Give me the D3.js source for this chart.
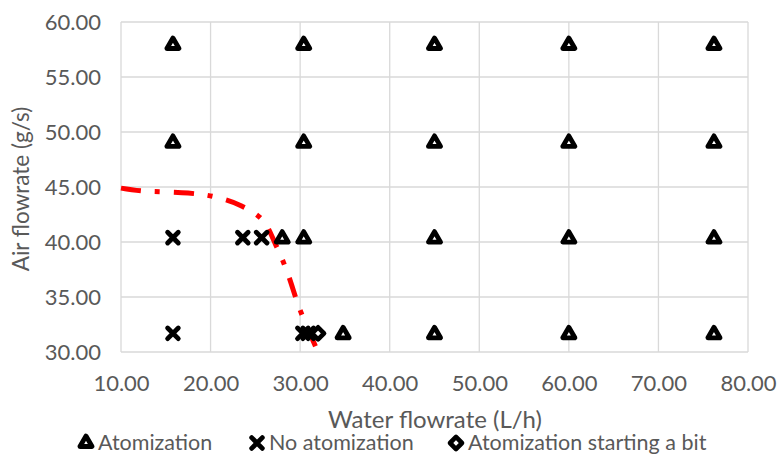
<!DOCTYPE html>
<html>
<head>
<meta charset="utf-8">
<script src="https://cdn.jsdelivr.net/npm/d3@7"></script>
<style>
  body { margin: 0; background: #fff; }
  text { font-family: Lato, "Liberation Sans", sans-serif; fill: #595959; }
</style>
</head>
<body>
<div id="chart"></div>
<script>
// values
var atomX = [15.8, 15.8, 30.4, 30.4, 30.4, 28.0, 34.8, 45, 45, 45, 45, 60, 60, 60, 60, 76.2, 76.2, 76.2, 76.2];
var atomY = [58.0, 49.1, 58.0, 49.1, 40.4, 40.4, 31.7, 58.0, 49.1, 40.4, 31.7, 58.0, 49.1, 40.4, 31.7, 58.0, 49.1, 40.4, 31.7];
var noAtomX = [15.8, 15.8, 23.6, 25.7, 30.3, 30.9];
var noAtomY = [40.4, 31.7, 40.4, 40.4, 31.7, 31.7];
var startX = [32.0];
var startY = [31.7];
var limitX = [10, 12.3, 17.5, 20.5, 23.4, 25.8, 27.3, 28.5, 30.0, 32.0];
var limitY = [44.9, 44.65, 44.45, 44.1, 43.3, 42.0, 39.7, 37.4, 33.8, 30.0];
var xTicks = [10, 20, 30, 40, 50, 60, 70, 80];
var yTicks = [30, 35, 40, 45, 50, 55, 60];
var legendNames = ["Atomization", "No atomization", "Atomization starting a bit"];

var W = 777, H = 456;
var margin = {left: 121, right: 29, top: 22, bottom: 104};
var width = W - margin.left - margin.right;
var height = H - margin.top - margin.bottom;

var svg = d3.select("#chart").append("svg")
  .attr("width", W).attr("height", H);

var g = svg.append("g")
  .attr("transform", `translate(${margin.left},${margin.top})`);

var x = d3.scaleLinear().domain([10, 80]).range([0, width]);
var y = d3.scaleLinear().domain([30, 60]).range([height, 0]);

// gridlines
g.append("g").selectAll("line.v").data(xTicks).enter().append("line")
  .attr("x1", d => x(d)).attr("x2", d => x(d))
  .attr("y1", 0).attr("y2", height)
  .attr("stroke", "#d9d9d9").attr("stroke-width", 1.3);
g.append("g").selectAll("line.h").data(yTicks).enter().append("line")
  .attr("x1", 0).attr("x2", width)
  .attr("y1", d => y(d)).attr("y2", d => y(d))
  .attr("stroke", "#d9d9d9").attr("stroke-width", 1.3);

// axes (labels only)
var xAxis = g.append("g").attr("transform", `translate(0,${height})`)
  .call(d3.axisBottom(x).tickValues(xTicks).tickFormat(d3.format(".2f")).tickSize(0).tickPadding(23));
var yAxis = g.append("g")
  .call(d3.axisLeft(y).tickValues(yTicks).tickFormat(d3.format(".2f")).tickSize(0).tickPadding(20));
[xAxis, yAxis].forEach(a => {
  a.select(".domain").remove();
  a.selectAll("text").attr("font-size", 22).attr("fill", "#595959")
    .style("font-family", "Lato, 'Liberation Sans', sans-serif");
});

// axis titles
svg.append("text")
  .attr("x", 435)
  .attr("y", 428)
  .attr("text-anchor", "middle")
  .attr("font-size", 24)
  .text("Water flowrate (L/h)");
svg.append("text")
  .attr("transform", "translate(29,189) rotate(-90)")
  .attr("text-anchor", "middle")
  .attr("font-size", 22.5)
  .text("Air flowrate (g/s)");

// boundary curve
var line = d3.line().x((d, i) => x(limitX[i])).y((d, i) => y(limitY[i]))
  .curve(d3.curveCatmullRom);
g.append("path").datum(limitX)
  .attr("d", line)
  .attr("fill", "none").attr("stroke", "#ff0000")
  .attr("stroke-width", 5)
  .attr("stroke-dasharray", "20,14,5,14");

// markers
var tri = d3.symbol().type(d3.symbolTriangle).size(64);
var times = d3.symbol().type(d3.symbolTimes).size(76);
var diam = d3.symbol().type(d3.symbolDiamond2).size(92);

function drawTri(sel) {
  sel.attr("d", tri).attr("fill", "#fff").attr("stroke", "#000")
    .attr("stroke-width", 4.8).attr("stroke-linejoin", "round");
}
function drawTimes(sel) {
  sel.attr("d", times).attr("fill", "none").attr("stroke", "#000")
    .attr("stroke-width", 4.8).attr("stroke-linecap", "round");
}
function drawDiam(sel) {
  sel.attr("d", diam).attr("fill", "#fff").attr("stroke", "#000")
    .attr("stroke-width", 4.6).attr("stroke-linejoin", "round");
}

g.selectAll("path.atom").data(atomX).enter().append("path")
  .attr("class", "atom")
  .attr("transform", (d, i) => `translate(${x(d)},${y(atomY[i]) + 1})`)
  .call(drawTri);
g.selectAll("path.noatom").data(noAtomX).enter().append("path")
  .attr("class", "noatom")
  .attr("transform", (d, i) => `translate(${x(d)},${y(noAtomY[i])})`)
  .call(drawTimes);
g.selectAll("path.start").data(startX).enter().append("path")
  .attr("class", "start")
  .attr("transform", (d, i) => `translate(${x(d)},${y(startY[i])})`)
  .call(drawDiam);

// legend
var legendX = [86, 257, 456];
var lg = svg.append("g");
var drawers = [drawTri, drawTimes, drawDiam];
legendNames.forEach(function(name, i) {
  lg.append("path")
    .attr("transform", `translate(${legendX[i]},443)`)
    .call(drawers[i]);
  lg.append("text")
    .attr("x", legendX[i] + 12).attr("y", 450)
    .attr("font-size", 21.5)
    .text(name);
});
</script>
</body>
</html>
